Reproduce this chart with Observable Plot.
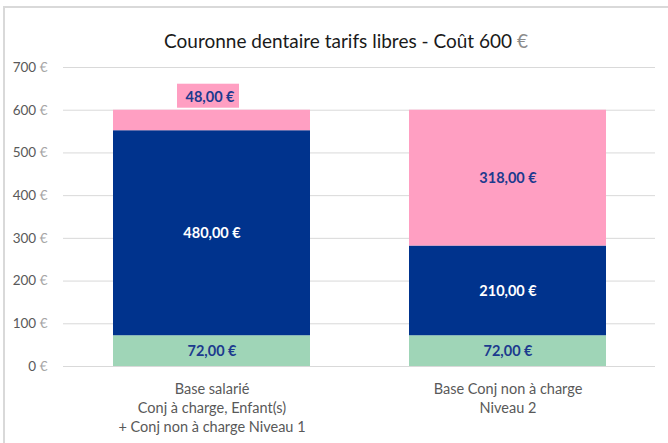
<!DOCTYPE html>
<html>
<head>
<meta charset="utf-8">
<script src="https://cdn.jsdelivr.net/npm/d3@7"></script>
<script src="https://cdn.jsdelivr.net/npm/@observablehq/plot@0.6"></script>
<style>
  html, body { margin: 0; padding: 0; background: #fff; overflow: hidden; }
  #frame { position: absolute; left: 3px; top: 6px; width: 690px; height: 460px;
           border-top: 2px solid #d9d9d9; border-left: 2px solid #d9d9d9; background: #fff; }
  #title { width: 682px; height: 30px; padding-top: 22px; text-align: center;
           font-family: Lato, sans-serif; font-size: 19px; line-height: 22px; color: #1a1a1a; }
  #title .eur { color: #8c8c8c; }
</style>
</head>
<body>
<div id="frame">
  <div id="title">Couronne dentaire tarifs libres - Coût 600 <span class="eur">€</span></div>
  <div id="chart"></div>
</div>
<script>
const categories = ["Base salarié\nConj à charge, Enfant(s)\n+ Conj non à charge Niveau 1", "Base Conj non à charge\nNiveau 2"];
const seriesNames = ["Part 1", "Part 2", "Part 3"];
const seriesColors = ["#9fd5b7", "#00338d", "#ff9fc2"];
const labelColors = ["#1c3a8e", "#ffffff", "#1c3a8e"];
const part1 = [72, 72];
const part2 = [480, 210];
const part3 = [48, 318];
const yTicks = [0, 100, 200, 300, 400, 500, 600, 700];

const seriesValues = [part1, part2, part3];
const rows = [];
categories.forEach((c, ci) => {
  let acc = 0;
  seriesValues.forEach((vals, si) => {
    const v = vals[ci];
    rows.push({category: c, series: seriesNames[si], value: v, y1: acc, y2: acc + v,
               mid: acc + v / 2, label: v.toFixed(2).replace(".", ",") + " €",
               color: seriesColors[si], textColor: labelColors[si]});
    acc += v;
  });
});
const inside = rows.filter(r => r.value >= 60);
const outside = rows.filter(r => r.value < 60);

const font = "Lato, sans-serif";
const chart = Plot.plot({
  width: 663,
  height: 383,
  marginTop: 7,
  marginBottom: 77,
  marginLeft: 58,
  marginRight: 13,
  style: {fontFamily: font, background: "transparent"},
  x: {domain: categories, paddingInner: 0.335, paddingOuter: 0.1675, label: null},
  y: {domain: [0, 700], label: null},
  marks: [
    Plot.gridY(yTicks, {stroke: "#d9d9d9", strokeOpacity: 1, strokeWidth: 1}),
    Plot.axisY({ticks: yTicks, tickSize: 0, tickPadding: 16, tickFormat: d => d + " €",
                fill: "#595959", fontSize: 13.5, label: null}),
    Plot.axisX({tickSize: 0, tickPadding: 14, fill: "#595959", fontSize: 14.5,
                lineHeight: 1.3, label: null}),
    Plot.barY(rows, {x: "category", y1: "y1", y2: "y2", fill: "color"}),
    Plot.barY(outside, {x: "category", y1: "y2", y2: "y2", fill: "color",
                        insetTop: -26, insetBottom: 2, insetLeft: 64, insetRight: 71}),
    Plot.text(inside, {x: "category", y: "mid", text: "label", fill: "textColor",
                       fontWeight: "bold", fontSize: 14.5}),
    Plot.text(outside, {x: "category", y: "y2", text: "label", fill: "textColor",
                        fontWeight: "bold", fontSize: 14.5, dy: -13, dx: -2})
  ]
});
document.getElementById("chart").appendChild(chart);
const ns = "http://www.w3.org/2000/svg";
chart.querySelectorAll('[aria-label="y-axis tick label"] text').forEach(t => {
  const s = t.textContent;
  if (s.endsWith("€")) {
    t.textContent = s.slice(0, -1);
    const ts = document.createElementNS(ns, "tspan");
    ts.setAttribute("fill", "#a6a6a6");
    ts.textContent = "€";
    t.appendChild(ts);
  }
});
</script>
</body>
</html>
